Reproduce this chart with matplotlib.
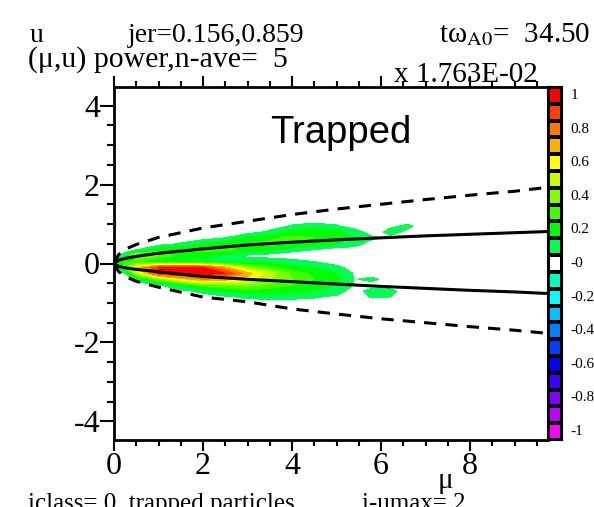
import numpy as np
import matplotlib
matplotlib.use("Agg")
import matplotlib.pyplot as plt
from matplotlib.colors import ListedColormap, BoundaryNorm

plt.rcParams['font.family'] = ['Liberation Serif', 'DejaVu Serif']
plt.rcParams['mathtext.fontset'] = 'stix'
plt.rcParams['axes.unicode_minus'] = False

# (mu, u) power
mu_grid = [0, 0.25, 0.5, 1, 1.5, 2, 2.5, 3, 3.5, 4, 4.5, 5, 5.4, 5.8, 6.2, 6.6, 7.0]
u_grid = [-1.0, -0.85, -0.7, -0.55, -0.4, -0.25, -0.1, 0.05, 0.2, 0.35, 0.5, 0.65, 0.8, 0.95, 1.1]
power = [
    [0, 0, 0, 0, 0, 0, 0, 0, 0, 0, 0, 0, 0, 0, 0, 0, 0],
    [0, 0, 0, 0, 0, 0, 0.03, 0.07, 0.08, 0.08, 0.06, 0.03, 0, 0.06, 0.05, 0, 0],
    [0, 0, 0, 0, 0.02, 0.08, 0.15, 0.2, 0.2, 0.18, 0.15, 0.1, 0, 0.1, 0.08, 0, 0],
    [0, 0, 0, 0.04, 0.15, 0.3, 0.35, 0.38, 0.32, 0.25, 0.2, 0.15, 0.04, 0, 0, 0, 0],
    [0, 0, 0.08, 0.35, 0.6, 0.75, 0.7, 0.6, 0.45, 0.35, 0.25, 0.18, 0.045, 0.08, 0, 0, 0],
    [0, 0.04, 0.45, 0.95, 1.0, 1.0, 0.95, 0.7, 0.5, 0.32, 0.22, 0.15, 0.04, 0, 0, 0, 0],
    [0.08, 0.3, 0.65, 0.95, 1.0, 0.95, 0.7, 0.4, 0.28, 0.18, 0.14, 0.08, 0, 0, 0, 0, 0],
    [0.12, 0.25, 0.25, 0.15, 0.12, 0.1, 0.08, 0.1, 0.12, 0.08, 0.05, 0, 0, 0, 0, 0, 0],
    [0, 0.1, 0.5, 0.35, 0.22, 0.2, 0.12, 0.03, 0, 0, 0, 0, 0, 0, 0, 0, 0],
    [0, 0, 0.04, 0.2, 0.25, 0.28, 0.28, 0.22, 0.18, 0.08, 0.05, 0, 0, 0, 0, 0, 0],
    [0, 0, 0, 0, 0.06, 0.15, 0.22, 0.25, 0.28, 0.25, 0.22, 0.15, 0.1, 0, 0, 0, 0],
    [0, 0, 0, 0, 0, 0, 0.05, 0.18, 0.22, 0.28, 0.25, 0.22, 0.14, 0.07, 0.03, 0, 0],
    [0, 0, 0, 0, 0, 0, 0, 0, 0.07, 0.18, 0.22, 0.18, 0.1, 0, 0.08, 0.03, 0],
    [0, 0, 0, 0, 0, 0, 0, 0, 0, 0.06, 0.1, 0.06, 0, 0, 0.03, 0.07, 0],
    [0, 0, 0, 0, 0, 0, 0, 0, 0, 0, 0, 0, 0, 0, 0, 0, 0],
]

# boundary curves
mu_line = [0, 0.1, 0.25, 0.5, 1, 2, 3, 4, 5, 6, 7, 8, 9, 9.75]
u_solid_up = [0, 0.08, 0.13, 0.18, 0.26, 0.37, 0.47, 0.54, 0.60, 0.65, 0.70, 0.74, 0.78, 0.81]
u_solid_dn = [0, -0.07, -0.11, -0.15, -0.21, -0.33, -0.40, -0.46, -0.52, -0.58, -0.63, -0.68, -0.72, -0.76]
u_dash_up = [0, 0.22, 0.36, 0.48, 0.66, 0.9, 1.07, 1.24, 1.38, 1.5, 1.62, 1.73, 1.83, 1.93]
u_dash_dn = [0, -0.2, -0.33, -0.45, -0.6, -0.85, -0.97, -1.15, -1.28, -1.4, -1.5, -1.6, -1.69, -1.77]

# colour table, from -1 up to 1
cb_colors = ['#ff00ff', '#c000ff', '#8000ff', '#4000ff', '#0000ff', '#0040ff', '#0080ff',
             '#00c0ff', '#00ffff', '#00ffc0', '#ffffff', '#00ff50', '#00ff00', '#40ff00',
             '#80ff00', '#c8ff00', '#ffff00', '#ffb000', '#ff7800', '#ff4000', '#ff0000']
cb_labels = ['1', '0.8', '0.6', '0.4', '0.2', '-0', '-0.2', '-0.4', '-0.6', '-0.8', '-1']

W, H = 594, 507
fig = plt.figure(figsize=(W / 100, H / 100), dpi=100)
ax = fig.add_axes([114 / W, 1 - 440 / H, 434 / W, 353 / H])

cmap = ListedColormap(cb_colors)
bounds = np.linspace(-1.05, 1.05, 22)
norm = BoundaryNorm(bounds, cmap.N)
ax.contourf(mu_grid, u_grid, np.array(power), levels=bounds, cmap=cmap, norm=norm)

ax.plot(mu_line, u_solid_up, color='k', lw=2.2)
ax.plot(mu_line, u_solid_dn, color='k', lw=2.2)
ax.plot(mu_line, u_dash_up, color='k', lw=2.2, dashes=(4, 3))
ax.plot(mu_line, u_dash_dn, color='k', lw=2.2, dashes=(4, 3))

ax.set_xlim(0, 9.75)
ax.set_ylim(-4.47, 4.47)
ax.set_xticks([0, 2, 4, 6, 8])
ax.set_xticks(np.arange(0, 9.6, 0.5), minor=True)
ax.set_yticks([-4, -2, 0, 2, 4])
ax.set_yticks(np.arange(-4.0, 4.1, 0.5), minor=True)
ax.tick_params(which='both', direction='out', top=True, right=False, width=1.5,
               labelsize=23, colors='k')
ax.tick_params(axis='x', which='major', length=8, pad=1)
ax.tick_params(axis='x', which='minor', length=4)
ax.tick_params(axis='y', which='major', length=10, pad=0)
ax.tick_params(axis='y', which='minor', length=5)
for s in ax.spines.values():
    s.set_linewidth(2)
ax.spines['right'].set_visible(False)

ax.text(0.36, 0.87, 'Trapped', transform=ax.transAxes, fontsize=27.5,
        family=['Liberation Sans', 'DejaVu Sans'], va='center', ha='left')

# colour bar made of boxed cells
cax = fig.add_axes([548 / W, 1 - 440 / H, 14 / W, 353 / H])
cax.pcolormesh(np.arange(len(cb_colors)).reshape(-1, 1), cmap=ListedColormap(cb_colors),
               edgecolors='k', linewidth=1.5)
cax.set_xlim(0, 1)
cax.set_ylim(0, len(cb_colors))
cax.set_xticks([])
cax.set_yticks([])
for s in cax.spines.values():
    s.set_linewidth(1.5)
for i, lab in enumerate(cb_labels):
    cax.text(1.6, 20.5 - 2 * i, lab, fontsize=11, va='center', ha='left',
             transform=cax.transData, clip_on=False)

# header and footer texts
def ftext(x, y, s, size=20, **kw):
    fig.text(x / W, 1 - y / H, s, fontsize=size, va='baseline', **kw)

ftext(30, 42, 'u')
ftext(128, 42, 'jer=0.156,0.859')
ftext(590, 42, r'tω$_{\mathrm{A0}}$=  34.50', size=21, ha='right')
ftext(28, 67, '(μ,u) power,n-ave=  5', size=21.5)
ftext(466, 82, 'x 1.763E-02', size=21, ha='center')
ftext(445, 488, 'μ', ha='center', size=21)
ftext(28, 510, 'iclass= 0  trapped particles', size=18)
ftext(362, 510, 'i-umax= 2', size=18)

fig.savefig('out.png', dpi=100)
